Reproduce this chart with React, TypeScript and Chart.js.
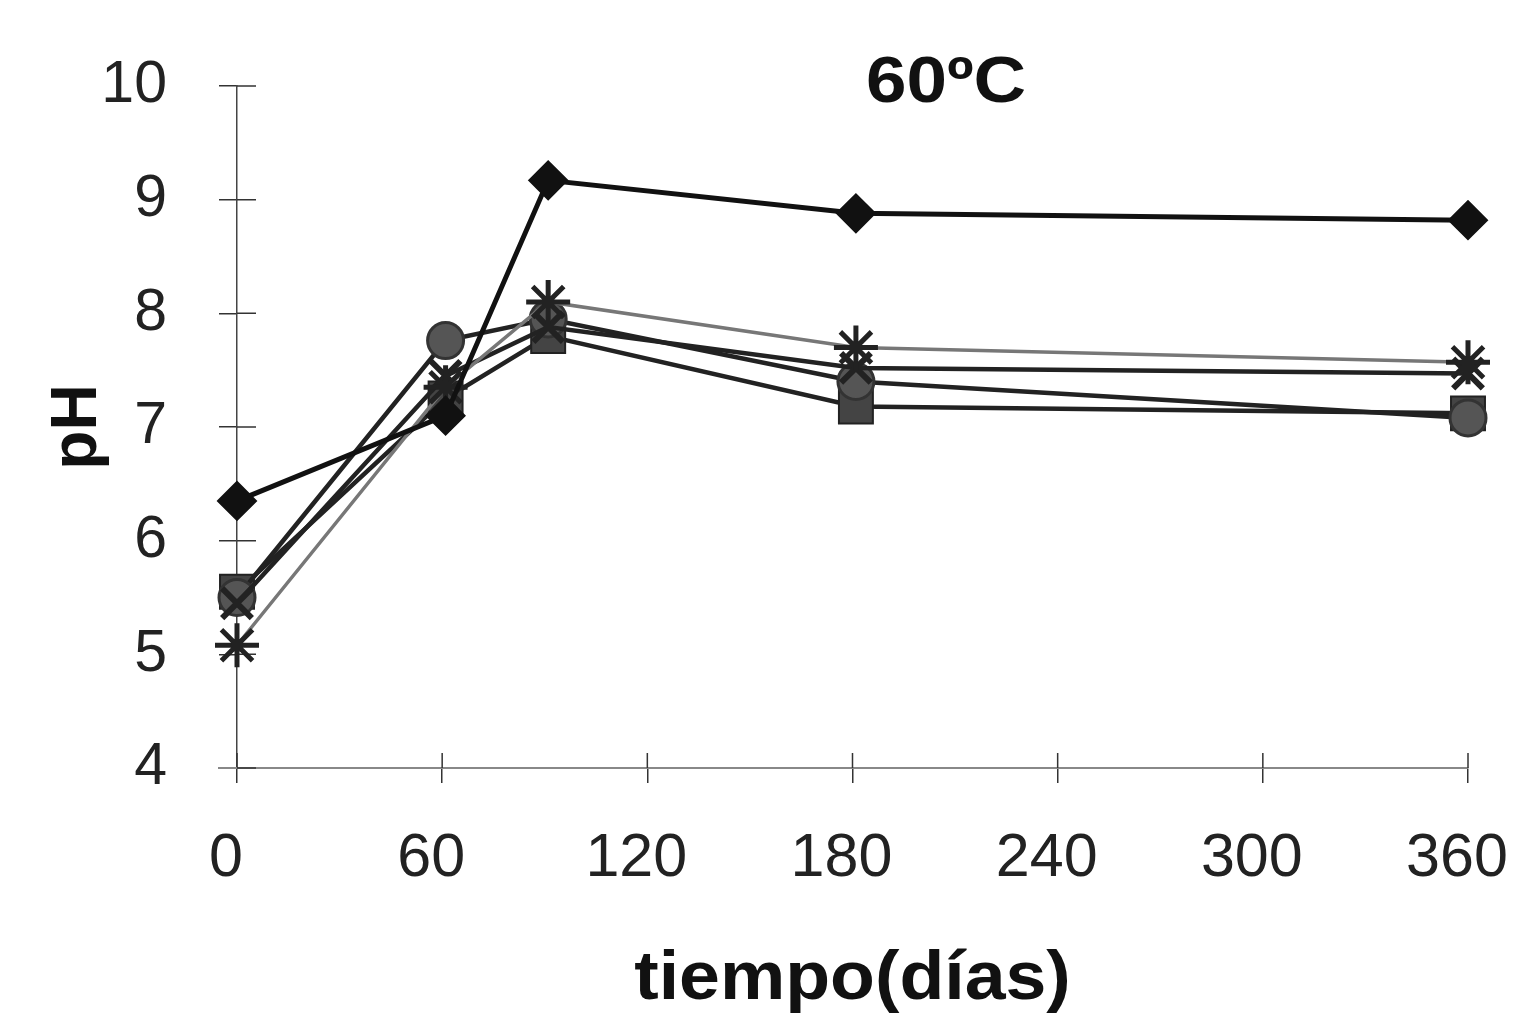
import React, { useEffect, useRef } from "react";
import { Chart, registerables } from "chart.js";

Chart.register(...registerables);

// Días de muestreo
const DIAS = [0, 61, 91, 181, 360];

// pH de cada serie a 60ºC
const PH_ROMBO = [6.35, 7.1, 9.17, 8.88, 8.82];
const PH_CUADRADO = [5.55, 7.25, 7.8, 7.18, 7.12];
const PH_CIRCULO = [5.5, 7.76, 7.95, 7.4, 7.08];
const PH_EQUIS = [5.45, 7.45, 7.88, 7.52, 7.47];
const PH_ASTERISCO = [5.08, 7.35, 8.1, 7.7, 7.57];

const X_TICKS = [0, 60, 120, 180, 240, 300, 360];
const Y_TICKS = [4, 5, 6, 7, 8, 9, 10];

const TITULO = "60ºC";
const EJE_X = "tiempo(días)";
const EJE_Y = "pH";

const FONT = "'Liberation Sans', Arial, Helvetica, sans-serif";

const puntos = (ys: number[]) => DIAS.map((d, i) => ({ x: d, y: ys[i] }));

// Short tick halves inside the plot, the title and the x-axis caption
const ejesPlugin = {
  id: "ejesCruzados",
  beforeDatasetsDraw(chart: any) {
    const { ctx, chartArea, scales } = chart;
    ctx.save();
    ctx.strokeStyle = "#333";
    ctx.lineWidth = 1.5;
    ctx.beginPath();
    for (const v of Y_TICKS) {
      const y = scales.y.getPixelForValue(v);
      ctx.moveTo(chartArea.left, y);
      ctx.lineTo(chartArea.left + 19, y);
    }
    for (const v of X_TICKS) {
      const x = scales.x.getPixelForValue(v);
      ctx.moveTo(x, chartArea.bottom);
      ctx.lineTo(x, chartArea.bottom - 15);
    }
    ctx.stroke();
    ctx.strokeStyle = "#888";
    ctx.lineWidth = 2;
    ctx.beginPath();
    ctx.moveTo(chartArea.left - 19, chartArea.bottom);
    ctx.lineTo(chartArea.left, chartArea.bottom);
    ctx.stroke();
    ctx.restore();
  },
  afterDraw(chart: any) {
    const { ctx, chartArea } = chart;
    ctx.save();
    ctx.fillStyle = "#111";
    ctx.textAlign = "center";
    ctx.textBaseline = "middle";
    // title, slightly widened
    ctx.save();
    ctx.translate(946, 84);
    ctx.scale(1.12, 1);
    ctx.font = `bold 65px ${FONT}`;
    ctx.fillText(TITULO, 0, 0);
    ctx.restore();
    // x-axis caption, slightly widened
    ctx.save();
    ctx.translate((chartArea.left + chartArea.right) / 2, 980);
    ctx.scale(1.08, 1);
    ctx.font = `bold 68px ${FONT}`;
    ctx.fillText(EJE_X, 0, 0);
    ctx.restore();
    ctx.restore();
  },
};

export default function App() {
  const ref = useRef<HTMLCanvasElement | null>(null);

  useEffect(() => {
    if (!ref.current) return;
    const chart = new Chart(ref.current, {
      type: "line",
      data: {
        datasets: [
          {
            label: "Serie 1",
            data: puntos(PH_ROMBO),
            borderColor: "#111",
            backgroundColor: "#111",
            pointBorderColor: "#111",
            borderWidth: 5,
            pointStyle: "rectRot",
            pointRadius: 19,
            pointBorderWidth: 2,
            clip: false,
          },
          {
            label: "Serie 2",
            data: puntos(PH_ASTERISCO),
            borderColor: "#777",
            backgroundColor: "#333",
            pointBorderColor: "#222",
            borderWidth: 3.5,
            pointStyle: "star",
            pointRadius: 22,
            pointBorderWidth: 5,
            clip: false,
          },
          {
            label: "Serie 3",
            data: puntos(PH_EQUIS),
            borderColor: "#222",
            backgroundColor: "#222",
            pointBorderColor: "#222",
            borderWidth: 4.5,
            pointStyle: "crossRot",
            pointRadius: 21,
            pointBorderWidth: 6,
            clip: false,
          },
          {
            label: "Serie 4",
            data: puntos(PH_CIRCULO),
            borderColor: "#222",
            backgroundColor: "#555",
            pointBorderColor: "#333",
            borderWidth: 4.5,
            pointStyle: "circle",
            pointRadius: 18,
            pointBorderWidth: 3,
            clip: false,
          },
          {
            label: "Serie 5",
            data: puntos(PH_CUADRADO),
            borderColor: "#222",
            backgroundColor: "#444",
            pointBorderColor: "#222",
            borderWidth: 4.5,
            pointStyle: "rect",
            pointRadius: 24,
            pointBorderWidth: 2,
            clip: false,
          },
        ],
      },
      options: {
        animation: false,
        responsive: true,
        maintainAspectRatio: false,
        layout: { padding: { top: 86, right: 50, bottom: 0, left: 0 } },
        plugins: {
          legend: { display: false },
          tooltip: { enabled: false },
          title: { display: false },
        },
        scales: {
          x: {
            type: "linear",
            min: 0,
            max: 360,
            afterFit: (s: any) => {
              s.height = 263;
              s.paddingLeft = 0;
              s.paddingRight = 0;
            },
            afterBuildTicks: (s: any) => {
              s.ticks = X_TICKS.map((v) => ({ value: v }));
            },
            border: { display: true, color: "#888", width: 2 },
            grid: {
              display: true,
              drawOnChartArea: false,
              drawTicks: true,
              tickLength: 15,
              color: "#333",
              lineWidth: 1.5,
            },
            ticks: {
              color: "#222",
              font: { family: FONT, size: 61 },
              padding: 40,
              labelOffset: -11,
              maxRotation: 0,
              autoSkip: false,
            },
            title: { display: false },
          },
          y: {
            type: "linear",
            min: 4,
            max: 10,
            afterFit: (s: any) => {
              s.width = 237;
              s.paddingTop = 0;
              s.paddingBottom = 0;
            },
            afterBuildTicks: (s: any) => {
              s.ticks = Y_TICKS.map((v) => ({ value: v }));
            },
            border: { display: true, color: "#444", width: 1.5 },
            grid: {
              display: true,
              drawOnChartArea: false,
              drawTicks: true,
              tickLength: 18,
              color: "#333",
              lineWidth: 1.5,
            },
            ticks: {
              color: "#222",
              font: { family: FONT, size: 59 },
              padding: 52,
              autoSkip: false,
            },
            title: {
              display: true,
              text: EJE_Y,
              color: "#111",
              font: { family: FONT, size: 64, weight: "bold" },
              padding: { top: 40, bottom: 0 },
            },
          },
        },
      },
      plugins: [ejesPlugin],
    } as any);
    return () => chart.destroy();
  }, []);

  return (
    <div style={{ position: "fixed", left: 0, top: 0, width: 1518, height: 1031, background: "#fff" }}>
      <canvas ref={ref} />
    </div>
  );
}
